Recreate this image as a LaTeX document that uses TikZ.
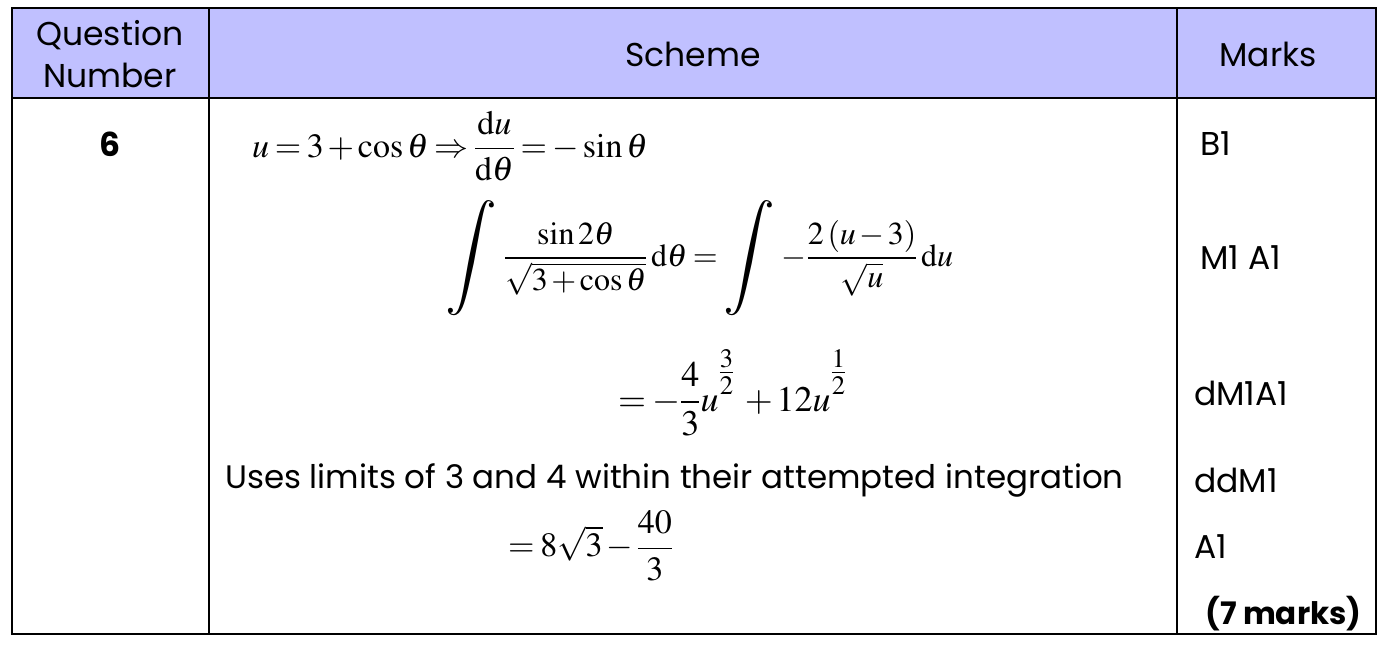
\documentclass[tikz,border=0pt]{standalone}
\usepackage{amsmath}
\usepackage{mathptmx}
\usepackage[no-math]{fontspec}
\setmainfont{Poppins}
\definecolor{headfill}{RGB}{192,192,255}
\thickmuskip=3mu plus 2mu
\medmuskip=2mu plus 1mu

\begin{document}
\begin{tikzpicture}[x=1pt,y=-1pt,
  rule/.style={line width=1.6pt},
  hdr/.style={font=\fontsize{33}{42}\selectfont,align=center},
  markcell/.style={font=\fontsize{33}{38}\selectfont,anchor=west,inner sep=0pt},
  sch/.style={font=\fontsize{#1}{#1}\selectfont,anchor=west,inner sep=0pt},
  sch/.default=36]
 \useasboundingbox (0,0) rectangle (1386,648);
 % table
 \fill[headfill] (12,8) rectangle (1376,98);
 \draw[rule] (12,8) rectangle (1376,634);
 \draw[rule] (12,98) -- (1376,98);
 \draw[rule] (209,8) -- (209,634);
 \draw[rule] (1177,8) -- (1177,634);
 % header
 \node[hdr] (qnum) at (110,54) {Question\\Number};
 \node[hdr] (scheme) at (693,54) {Scheme};
 \node[hdr] (marks) at (1268,54) {Marks};
 \node[hdr,font=\fontsize{33}{38}\selectfont\bfseries] (qsix) at (110,144) {6};
 % scheme
 \node[sch=34] (subs) at (252,146) {$u=3+\cos\theta\Rightarrow\dfrac{\mathrm{d}u}{\mathrm{d}\theta}=-\sin\theta$};
 \node[sch=32] (integ) at (445,258) {$\mathop{\vcenter{\hbox{\scalebox{1.8}{$\displaystyle\int$}}}}\,\dfrac{\sin2\theta}{\sqrt{3+\cos\theta}}\,\mathrm{d}\theta=\mathop{\vcenter{\hbox{\scalebox{1.8}{$\displaystyle\int$}}}}\,-\dfrac{2\left(u-3\right)}{\sqrt{u}}\,\mathrm{d}u$};
 \node[sch] (result) at (618,393) {$=-\dfrac{4}{3}u^{\raisebox{0.45em}{$\genfrac{}{}{}{1}{3}{2}$}}\;+12u^{\raisebox{0.45em}{$\genfrac{}{}{}{1}{1}{2}$}}$};
 \node[sch=32.5] (limits) at (225,480) {Uses limits of 3 and 4 within their attempted integration};
 \node[sch=34] (answer) at (508,546) {$=8\sqrt{3}-\dfrac{40}{3}$};
 % marks
 \node[markcell] (mkone) at (1200,144) {B1};
 \node[markcell] (mktwo) at (1200,258) {M1 A1};
 \node[markcell] (mkthree) at (1194,393) {dM1A1};
 \node[markcell] (mkfour) at (1194,480) {ddM1};
 \node[markcell] (mkfive) at (1194,547) {A1};
 \node[markcell,font=\fontsize{31}{36}\selectfont\bfseries] (total) at (1205,614) {(7 marks)};
\end{tikzpicture}
\end{document}
